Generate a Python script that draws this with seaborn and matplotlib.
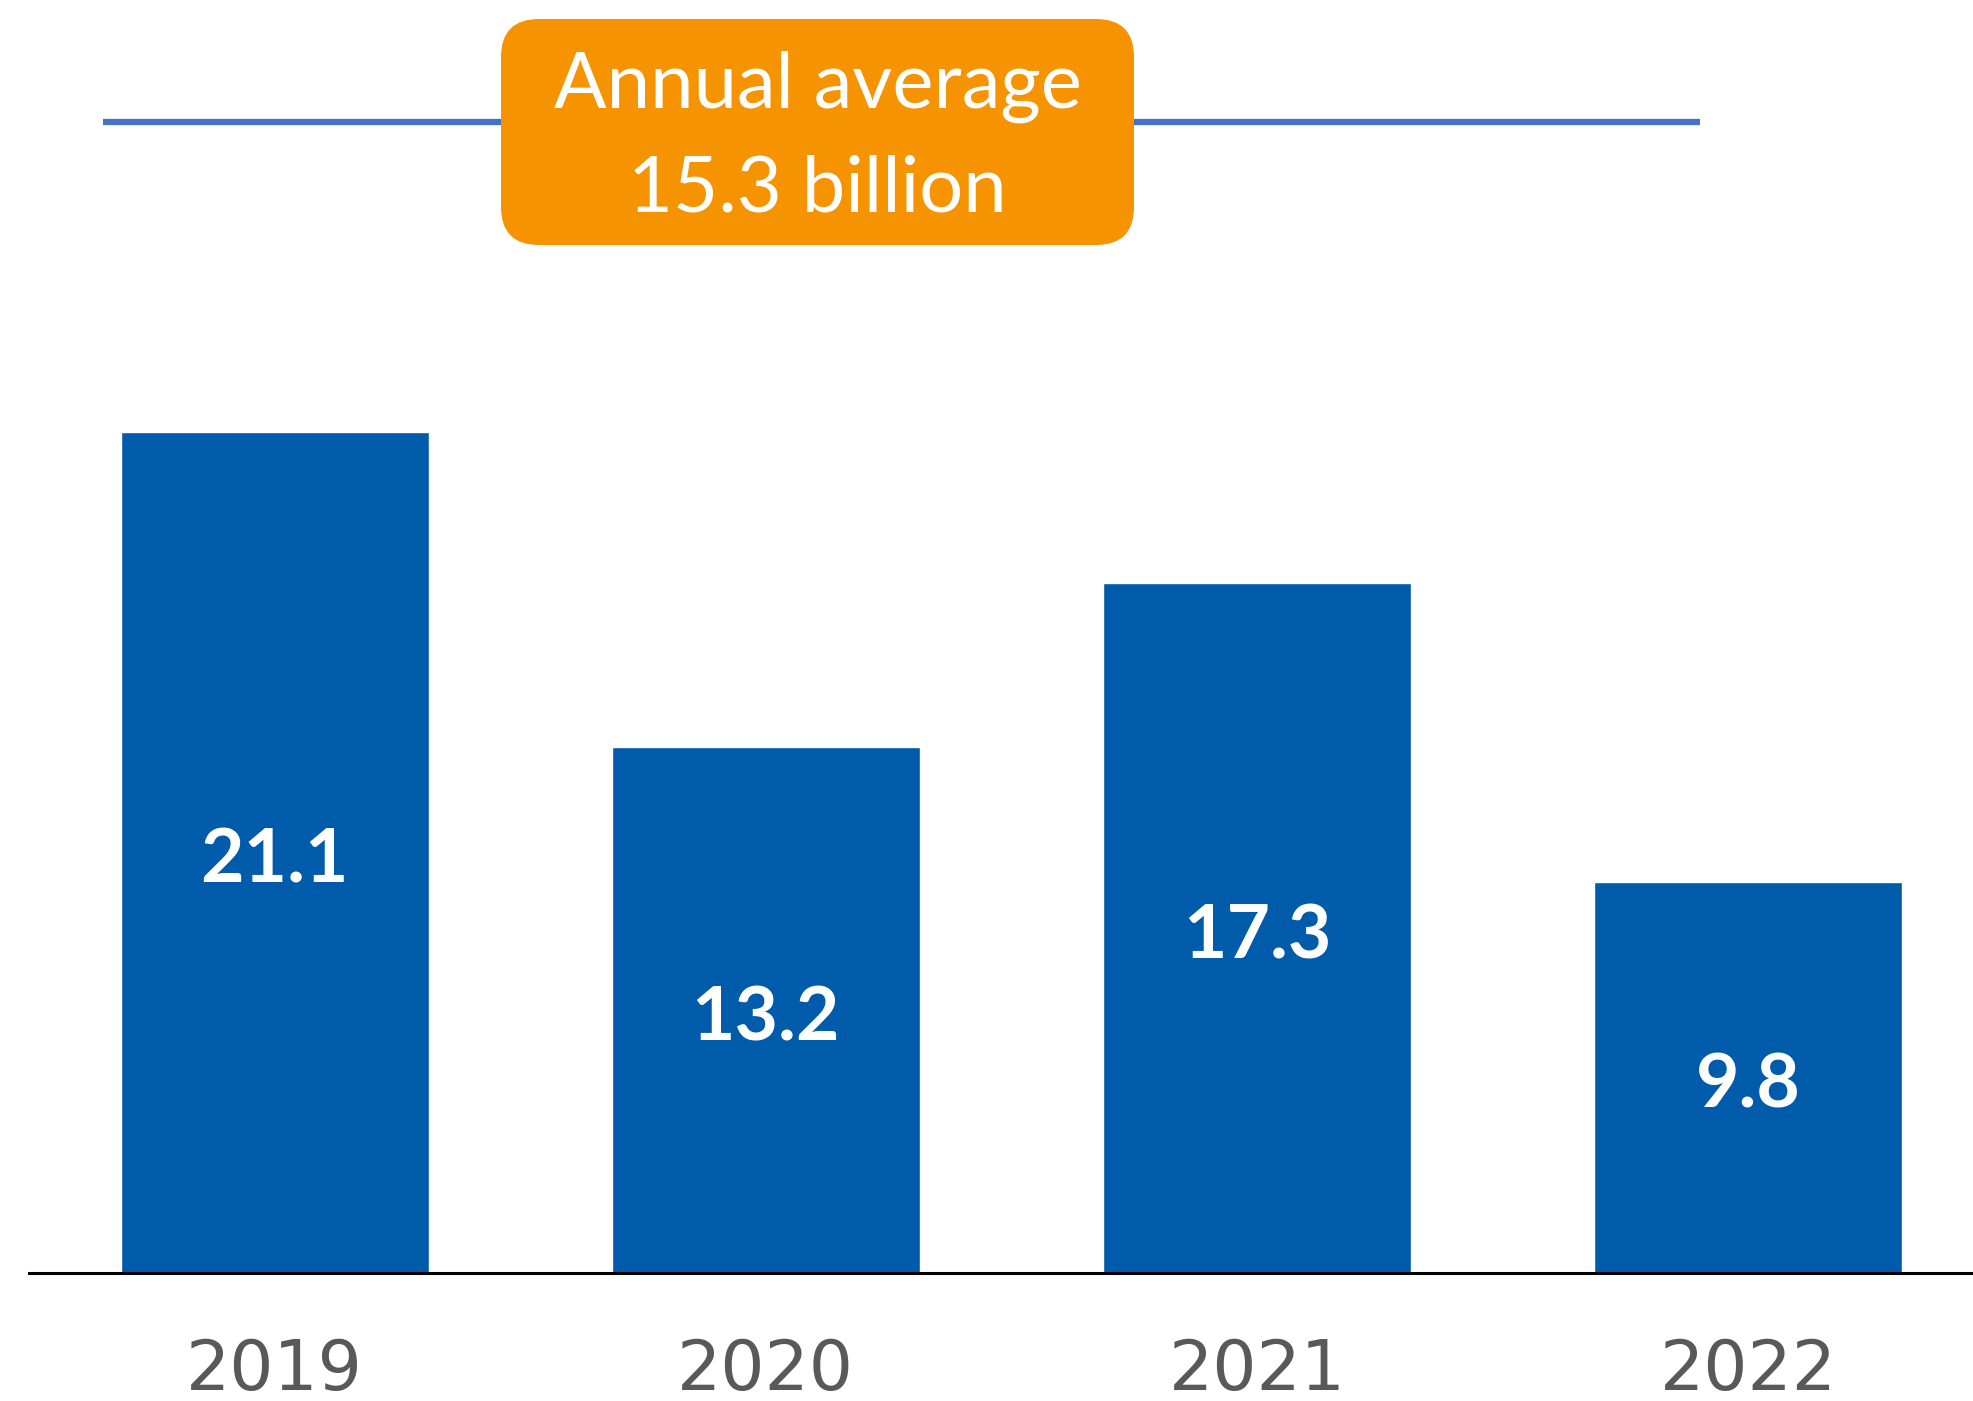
import matplotlib
matplotlib.use("Agg")
import matplotlib.pyplot as plt
from matplotlib.patches import FancyBboxPatch
import seaborn as sns
import pandas as pd

# Data (billions)
years = ["2019", "2020", "2021", "2022"]
values = [21.1, 13.2, 17.3, 9.8]
average_lines = ["Annual average", "15.3 billion"]

BAR_COLOR = "#005BAA"
BOX_COLOR = "#F59300"
LINE_COLOR = "#4472C4"
YEAR_COLOR = "#595959"

sns.set_theme(style="white")
plt.rcParams["font.family"] = ["Lato", "DejaVu Sans"]

W, H = 1974, 1401
fig = plt.figure(figsize=(W / 100, H / 100), dpi=100)
fig.patch.set_facecolor("white")

ax_left = 29 / W
ax_bottom = (H - 1273) / H
ax = fig.add_axes([ax_left, ax_bottom, 1 - ax_left, 1 - ax_bottom])

df = pd.DataFrame({"year": years, "value": values})
sns.barplot(data=df, x="year", y="value", color=BAR_COLOR, saturation=1,
            width=0.627, ax=ax)

ax.set_xlim(-0.5, 3.46)
ax.set_ylim(0, 31.94)
ax.set_xlabel("")
ax.set_ylabel("")
ax.set_xticks([])
ax.set_yticks([])
for side in ["left", "right", "top"]:
    ax.spines[side].set_visible(False)
ax.spines["bottom"].set_color("black")
ax.spines["bottom"].set_linewidth(2.2)
ax.set_facecolor("none")

# Value labels inside bars
for i, v in enumerate(values):
    ax.text(i, v / 2 - 0.76, f"{v:.1f}", ha="center", va="baseline",
            color="white", fontsize=54, fontweight="bold")

# Year labels below the baseline
for i, y in enumerate(years):
    ax.text(i, -2.93, y, ha="center", va="baseline", color=YEAR_COLOR,
            fontsize=50, family="DejaVu Sans", clip_on=False)

# Header overlay in pixel coordinates: banner line with the average callout
ov = fig.add_axes([0, 0, 1, 1], zorder=5)
ov.set_xlim(0, W)
ov.set_ylim(H, 0)
ov.axis("off")
ov.patch.set_alpha(0)

ov.plot([103, 1700], [122, 122], color=LINE_COLOR, linewidth=4.5,
        solid_capstyle="butt", zorder=1)
bx0, bx1, by0, by1 = 501, 1134, 19, 245
r = 38
box = FancyBboxPatch((bx0 + r, by0 + r), bx1 - bx0 - 2 * r, by1 - by0 - 2 * r,
                     boxstyle=f"round,pad={r}", facecolor=BOX_COLOR,
                     edgecolor="none", zorder=2)
ov.add_patch(box)
cx = (bx0 + bx1) / 2
ov.text(cx, 108, average_lines[0], ha="center", va="baseline", color="white",
        fontsize=56, zorder=3)
ov.text(cx, 211, average_lines[1], ha="center", va="baseline", color="white",
        fontsize=56, zorder=3)

fig.savefig("out.png", dpi=100, facecolor="white")
